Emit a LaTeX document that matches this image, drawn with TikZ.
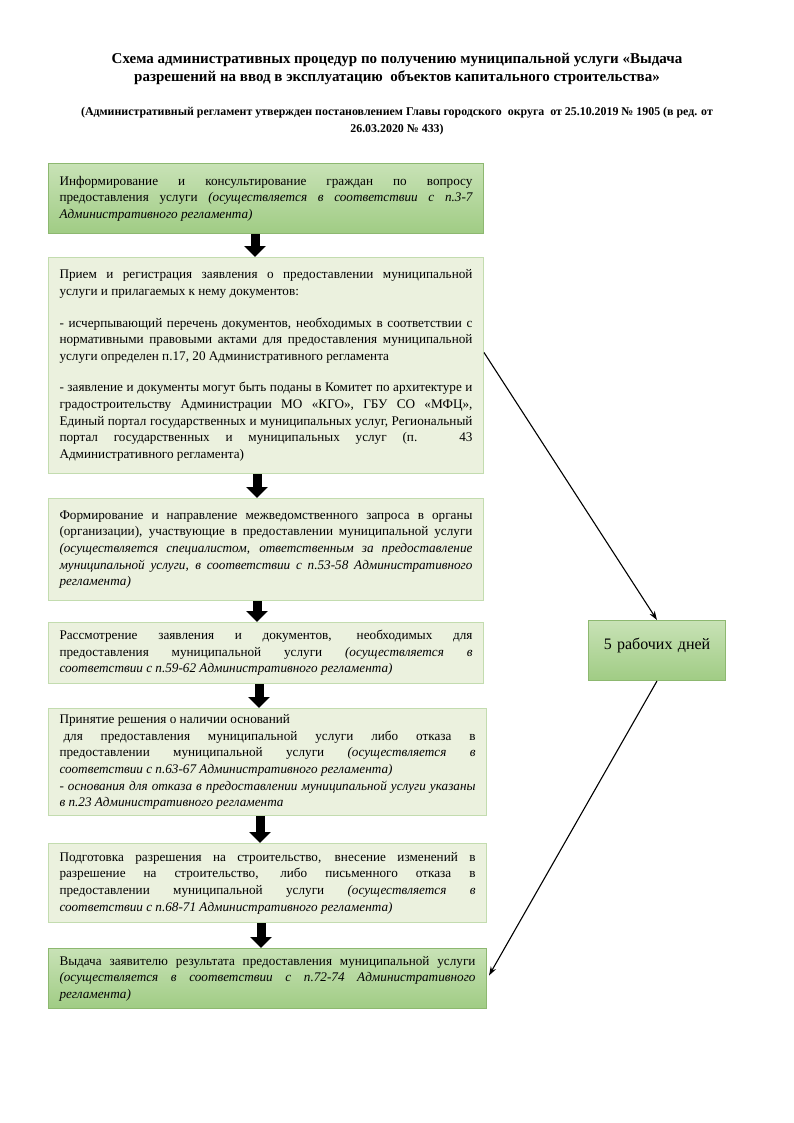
\documentclass[tikz,border=0pt]{standalone}
\usepackage{fontspec}
\setmainfont{Liberation Serif}
\usetikzlibrary{arrows.meta}

\definecolor{boxfill}{HTML}{EBF1DE}
\definecolor{boxline}{HTML}{C3DCAF}
\definecolor{darktop}{HTML}{C8E2B6}
\definecolor{darkbot}{HTML}{A0CC84}
\definecolor{darkline}{HTML}{8DB870}

\hyphenpenalty=10000
\hbadness=10000
\setlength{\parindent}{0pt}

\tikzset{
  stepbox/.style={draw=boxline, fill=boxfill, line width=1pt, anchor=north west,
    inner xsep=11pt, inner ysep=0pt, text width=413pt, align=justify,
    font=\fontsize{13.2}{16.6}\selectfont},
  keybox/.style={stepbox, draw=darkline, top color=darktop, bottom color=darkbot},
  bigarrow/.style={line width=9pt, -{Triangle[length=11pt, width=21pt]}},
  thinarrow/.style={line width=1.1pt, -{Stealth[length=9pt, width=6pt]}}
}

\begin{document}
\begin{tikzpicture}[x=1pt, y=-1pt]
  \useasboundingbox (0,0) rectangle (794,1123);

  % heading
  \node[align=center, font=\fontsize{15}{18}\selectfont\bfseries] (title) at (397,69)
    {Схема административных процедур по получению муниципальной услуги «Выдача\\
     разрешений на ввод в эксплуатацию\ \ объектов капитального строительства»};
  \node[align=center, font=\fontsize{11.9}{17}\selectfont\bfseries] (subtitle) at (397,121)
    {(Административный регламент утвержден постановлением Главы городского\ \ округа\ \ от 25.10.2019 № 1905 (в ред. от\\
     26.03.2020 № 433)};

  % steps
  \node[keybox, minimum height=70pt] (info) at (48,163)
    {Информирование и консультирование граждан по вопросу\linebreak
     предоставления услуги \textit{(осуществляется в соответствии с п.3-7\linebreak
     Административного регламента)}};

  \node[stepbox, minimum height=216pt] (reception) at (48,257)
    {Прием и регистрация заявления о предоставлении муниципальной\linebreak
     услуги и прилагаемых к нему документов:\par\vspace{15pt}
     - исчерпывающий перечень документов, необходимых в соответствии с\linebreak
     нормативными правовыми актами для предоставления муниципальной\linebreak
     услуги определен п.17, 20 Административного регламента\par\vspace{15pt}
     - заявление и документы могут быть поданы в Комитет по архитектуре и\linebreak
     градостроительству Администрации МО «КГО», ГБУ СО «МФЦ»,\linebreak
     Единый портал государственных и муниципальных услуг, Региональный\linebreak
     портал государственных и муниципальных услуг (п. 43\linebreak
     Административного регламента)};

  \node[stepbox, minimum height=102pt] (request) at (48,498)
    {Формирование и направление межведомственного запроса в органы\linebreak
     (организации), участвующие в предоставлении муниципальной услуги\linebreak
     \textit{(осуществляется специалистом, ответственным за предоставление\linebreak
     муниципальной услуги, в соответствии с п.53-58 Административного\linebreak
     регламента)}};

  \node[stepbox, minimum height=61pt] (review) at (48,622)
    {Рассмотрение заявления и документов, необходимых для\linebreak
     предоставления муниципальной услуги \textit{(осуществляется в\linebreak
     соответствии с п.59-62 Административного регламента)}};

  \node[stepbox, text width=416pt, minimum height=107pt] (decision) at (48,708)
    {Принятие решения о наличии оснований\newline
     \hspace*{4pt}для предоставления муниципальной услуги либо отказа в\linebreak
     предоставлении муниципальной услуги \textit{(осуществляется в\linebreak
     соответствии с п.63-67 Административного регламента)}\newline
     \textit{- основания для отказа в предоставлении муниципальной услуги указаны\linebreak
     в п.23 Административного регламента}};

  \node[stepbox, text width=416pt, minimum height=79pt] (prep) at (48,843)
    {Подготовка разрешения на строительство, внесение изменений в\linebreak
     разрешение на строительство, либо письменного отказа в\linebreak
     предоставлении муниципальной услуги \textit{(осуществляется в\linebreak
     соответствии с п.68-71 Административного регламента)}};

  \node[keybox, text width=416pt, minimum height=60pt] (issue) at (48,948)
    {Выдача заявителю результата предоставления муниципальной услуги\linebreak
     \textit{(осуществляется в соответствии с п.72-74 Административного\linebreak
     регламента)}};

  \node[keybox, text width=115pt, align=center, minimum height=60pt, text depth=14pt,
    font=\fontsize{16}{19}\selectfont] (days) at (588,620) {5 рабочих дней};

  % arrows
  \foreach \from/\to/\x in {info/reception/255, reception/request/257,
      request/review/257, review/decision/259, decision/prep/260, prep/issue/261}
    \draw[bigarrow] ({(\x,0)} |- \from.south) -- ({(\x,0)} |- \to.north);

  \draw[thinarrow] ([yshift=13pt]reception.east) -- (days.north);
  \draw[thinarrow] (days.south) -- ([xshift=2pt, yshift=3pt]issue.east);
\end{tikzpicture}
\end{document}
